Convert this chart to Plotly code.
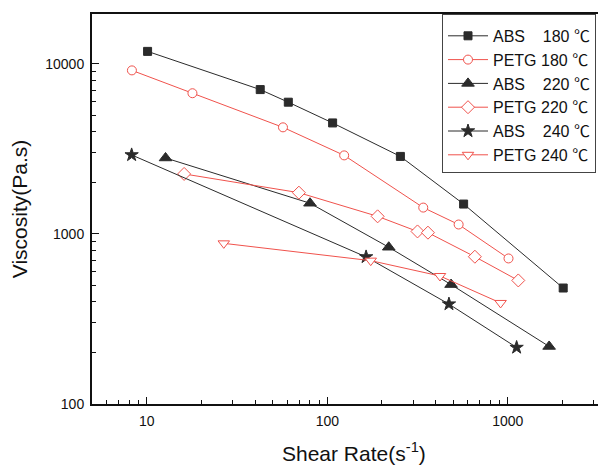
import math
import plotly.graph_objects as go

# ---- data ----
abs180_x = [10.1, 42.5, 60.8, 107, 254, 569, 2027]
abs180_y = [11860, 7070, 5960, 4500, 2860, 1500, 481]

petg180_x = [8.27, 17.9, 56.8, 124, 340, 534, 1009]
petg180_y = [9170, 6730, 4240, 2900, 1430, 1137, 718]

abs220_x = [12.7, 80.2, 219, 485, 1694]
abs220_y = [2800, 1517, 836, 504, 218]

petg220_x = [16.1, 69.6, 190, 316, 361, 657, 1143]
petg220_y = [2255, 1750, 1270, 1035, 1018, 735, 533]

abs240_x = [8.24, 164, 472, 1119]
abs240_y = [2918, 733, 387, 215]

petg240_x = [26.7, 174, 421, 912]
petg240_y = [881, 697, 566, 393]

NB = "\u00a0"
DEG = '<span style="font-family:Noto Sans CJK SC">℃</span>'
names = [
    "ABS" + NB * 4 + "180 " + DEG,
    "PETG" + NB + "180 " + DEG,
    "ABS" + NB * 4 + "220 " + DEG,
    "PETG" + NB + "220 " + DEG,
    "ABS" + NB * 4 + "240 " + DEG,
    "PETG" + NB + "240 " + DEG,
]

x_major = [10, 100, 1000]
y_major = [100, 1000, 10000]

BLACK = "#2b2b2b"
RED = "#f0524c"
FONT = "Liberation Sans, Arial, sans-serif"

series = [
    (abs180_x, abs180_y, names[0], BLACK, "square", BLACK, 8),
    (petg180_x, petg180_y, names[1], RED, "circle", "white", 9),
    (abs220_x, abs220_y, names[2], BLACK, "triangle-up", BLACK, 11),
    (petg220_x, petg220_y, names[3], RED, "diamond", "white", 10),
    (abs240_x, abs240_y, names[4], BLACK, "star", BLACK, 10),
    (petg240_x, petg240_y, names[5], RED, "triangle-down", "white", 10),
]

fig = go.Figure()
for xs, ys, nm, col, sym, fill, sz in series:
    fig.add_trace(go.Scatter(
        x=xs, y=ys, name=nm, mode="lines+markers",
        line=dict(color=col, width=1),
        marker=dict(symbol=sym, color=fill, size=sz,
                    line=dict(color=col, width=1)),
    ))

minor_x = [m * 10 ** e for e in range(0, 4) for m in range(2, 10)]
minor_y = [m * 10 ** e for e in range(2, 5) for m in range(2, 10)]

# the page body has an 8px default margin, so the figure is drawn 8px in
W, H = 598, 458
L, T, B = 84, 6, 62
PW = W - L
PH = H - T - B

fig.update_layout(
    width=W, height=H,
    margin=dict(l=L, r=0, t=T, b=B, autoexpand=False),
    paper_bgcolor="white", plot_bgcolor="white",
    font=dict(family=FONT, color="#111", size=14),
    showlegend=True,
    legend=dict(
        x=(442 - 92) / PW, y=1, xanchor="left", yanchor="top",
        bordercolor="#444", borderwidth=1, bgcolor="white",
        font=dict(family=FONT, size=16, color="#111"),
        itemwidth=40,
        title=dict(text=NB, font=dict(size=3)),
    ),
    xaxis=dict(
        type="log", range=[math.log10(4.97), 3.544], automargin=False,
        showgrid=False, zeroline=False,
        showline=True, linecolor="#111", linewidth=2, mirror=True,
        ticks="inside", ticklen=7, tickwidth=1, tickcolor="#111",
        tickvals=x_major, ticktext=[str(v) for v in x_major],
        tickfont=dict(size=14), ticklabelstandoff=3,
        minor=dict(tickvals=minor_x, ticks="inside", ticklen=4, tickcolor="#111", showgrid=False),
    ),
    yaxis=dict(
        type="log", range=[2, 4.294], automargin=False,
        showgrid=False, zeroline=False,
        showline=True, linecolor="#111", linewidth=2, mirror=False,
        ticks="inside", ticklen=7, tickwidth=1, tickcolor="#111",
        tickvals=y_major, ticktext=[str(v) for v in y_major],
        tickfont=dict(size=14), ticklabelstandoff=3,
        minor=dict(tickvals=minor_y, ticks="inside", ticklen=4, tickcolor="#111", showgrid=False),
        title=dict(text="Viscosity(Pa.s)", font=dict(size=21), standoff=12),
    ),
    annotations=[
        dict(text="Shear Rate(s<sup>-1</sup>)", xref="paper", yref="paper",
             x=(354 - 92) / PW, y=(396 - 444) / PH, xanchor="center", yanchor="middle",
             showarrow=False, font=dict(size=21, family=FONT, color="#111")),
    ],
)

fig.write_html("out.html")
